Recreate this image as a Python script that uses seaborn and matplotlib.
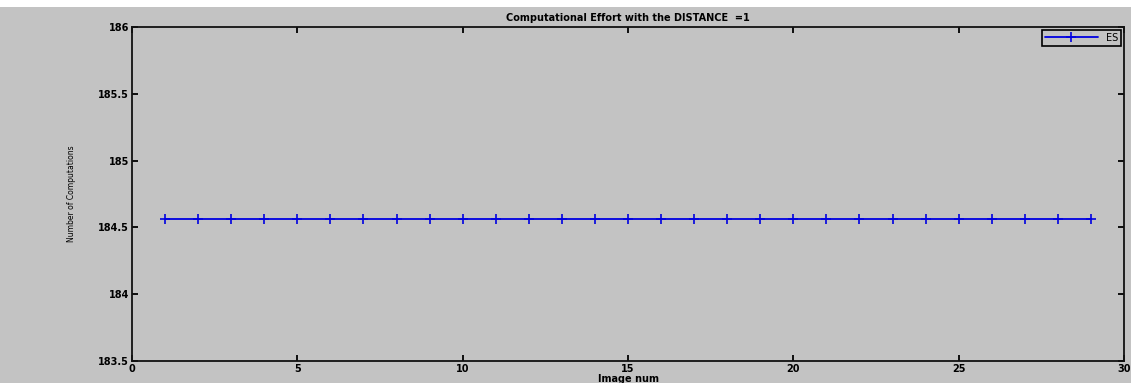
import matplotlib
matplotlib.use("Agg")
import matplotlib.pyplot as plt
import seaborn as sns
import pandas as pd

image_num = [1, 2, 3, 4, 5, 6, 7, 8, 9, 10, 11, 12, 13, 14, 15, 16, 17, 18, 19, 20,
             21, 22, 23, 24, 25, 26, 27, 28, 29]
es_values = [184.56, 184.56, 184.56, 184.56, 184.56, 184.56, 184.56, 184.56, 184.56, 184.56,
             184.56, 184.56, 184.56, 184.56, 184.56, 184.56, 184.56, 184.56, 184.56, 184.56,
             184.56, 184.56, 184.56, 184.56, 184.56, 184.56, 184.56, 184.56, 184.56]
x_ticks = [0, 5, 10, 15, 20, 25, 30]
y_ticks = [183.5, 184, 184.5, 185, 185.5, 186]
y_tick_labels = ["183.5", "184", "184.5", "185", "185.5", "186"]

sns.set_style("ticks")
plt.rcParams['font.family'] = ['DejaVu Sans']

GRAY = "#c3c3c3"
BLUE = "#0000e0"
df = pd.DataFrame({"Image num": image_num, "ES": es_values})

fig = plt.figure(figsize=(11.31, 3.83), dpi=100, facecolor=GRAY)
# white strip at top
fig.patches.append(plt.Rectangle((0, 1 - 7 / 383), 1, 7 / 383, transform=fig.transFigure,
                                 facecolor="white", edgecolor="none", zorder=-1))
ax = fig.add_axes([132 / 1131, 1 - 361 / 383, (1124 - 132) / 1131, (361 - 27) / 383])
ax.set_facecolor(GRAY)

sns.lineplot(data=df, x="Image num", y="ES", ax=ax, color=BLUE, linewidth=1.3,
             marker="+", markersize=7, markeredgewidth=1.2, markeredgecolor=BLUE,
             markerfacecolor=BLUE, label="ES")

ax.set_xlim(0, 30)
ax.set_ylim(183.5, 186)
ax.set_xticks(x_ticks)
ax.set_xticklabels([str(t) for t in x_ticks])
ax.set_yticks(y_ticks)
ax.set_yticklabels(y_tick_labels)
ax.tick_params(direction="in", length=4, width=1.3, top=True, right=True,
               labelsize=7, pad=2, colors="black")
for lab in ax.get_xticklabels() + ax.get_yticklabels():
    lab.set_fontweight("bold")
for s in ax.spines.values():
    s.set_visible(True)
    s.set_linewidth(1.3)
    s.set_color("#111111")

ax.set_title("Computational Effort with the DISTANCE  =1", fontsize=7, pad=4,
             fontweight="bold", color="black")
ax.set_xlabel("Image num", fontsize=7, labelpad=0, fontweight="bold", color="black")
ax.set_ylabel("Number of Computations", fontsize=5.5, labelpad=16, color="black")

leg = ax.legend(loc="upper right", fontsize=7, frameon=True, fancybox=False,
                borderaxespad=0.3, handlelength=5.5, borderpad=0.3, numpoints=1)
leg.get_frame().set_facecolor(GRAY)
leg.get_frame().set_edgecolor("black")
leg.get_frame().set_linewidth(1.2)
leg.get_frame().set_alpha(1)
for t in leg.get_texts():
    t.set_color("black")

fig.savefig("out.png", dpi=100, facecolor=GRAY)
